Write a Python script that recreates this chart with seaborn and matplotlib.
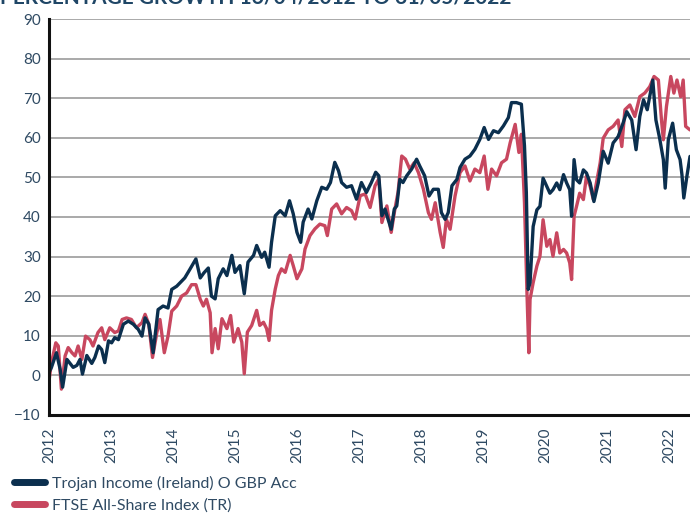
import pandas as pd
import matplotlib.pyplot as plt
import seaborn as sns

# --- values (x = decimal year, y = % growth) ---
trojan_x = [2012.00, 2012.04, 2012.12, 2012.18, 2012.22, 2012.29, 2012.34, 2012.39, 2012.45, 2012.50,
            2012.54, 2012.61, 2012.69, 2012.74, 2012.80, 2012.85, 2012.90, 2012.96, 2013.01, 2013.06,
            2013.12, 2013.20, 2013.28, 2013.36, 2013.44, 2013.50, 2013.55, 2013.61, 2013.68, 2013.76,
            2013.84, 2013.92, 2013.98, 2014.06, 2014.14, 2014.19, 2014.27, 2014.37, 2014.44, 2014.50,
            2014.57, 2014.62, 2014.68, 2014.73, 2014.81, 2014.87, 2014.95, 2015.00, 2015.08, 2015.15,
            2015.21, 2015.30, 2015.35, 2015.43, 2015.48, 2015.55, 2015.59, 2015.65, 2015.73, 2015.81,
            2015.88, 2015.94, 2016.00, 2016.06, 2016.10, 2016.18, 2016.24, 2016.32, 2016.40, 2016.48,
            2016.54, 2016.61, 2016.67, 2016.72, 2016.80, 2016.88, 2016.96, 2017.04, 2017.12, 2017.20,
            2017.27, 2017.32, 2017.37, 2017.42, 2017.47, 2017.52, 2017.57, 2017.61, 2017.66, 2017.71,
            2017.77, 2017.85, 2017.93, 2017.98, 2018.06, 2018.13, 2018.20, 2018.28, 2018.33, 2018.39,
            2018.44, 2018.50, 2018.58, 2018.63, 2018.71, 2018.79, 2018.87, 2018.95, 2019.02, 2019.09,
            2019.17, 2019.25, 2019.33, 2019.41, 2019.46, 2019.54, 2019.62, 2019.67, 2019.70, 2019.73,
            2019.76, 2019.81, 2019.87, 2019.92, 2019.97, 2020.03, 2020.08, 2020.13, 2020.19, 2020.24,
            2020.30, 2020.35, 2020.40, 2020.43, 2020.47, 2020.51, 2020.56, 2020.62, 2020.67, 2020.73,
            2020.79, 2020.86, 2020.94, 2021.02, 2021.10, 2021.18, 2021.26, 2021.32, 2021.40, 2021.47,
            2021.53, 2021.59, 2021.65, 2021.74, 2021.79, 2021.85, 2021.91, 2021.94, 2021.99, 2022.06,
            2022.12, 2022.18, 2022.21, 2022.24, 2022.29, 2022.34]
trojan_y = [0.7, 2.0, 5.7, 1.5, -3.0, 4.0, 3.0, 2.0, 2.5, 4.0,
            0.3, 5.0, 3.0, 4.5, 7.4, 6.5, 3.2, 8.7, 8.2, 9.5,
            9.0, 12.9, 13.7, 12.9, 11.6, 9.9, 14.5, 12.9, 5.7, 16.6,
            17.5, 17.0, 21.7, 22.5, 23.8, 24.6, 26.7, 29.4, 24.6, 25.9,
            27.1, 20.0, 19.3, 24.4, 26.9, 25.2, 30.3, 26.0, 27.7, 20.6,
            28.6, 30.3, 32.8, 29.8, 31.1, 27.3, 33.6, 40.3, 41.6, 40.3,
            44.1, 40.8, 36.1, 33.6, 38.7, 42.0, 39.5, 44.1, 47.5, 47.0,
            48.7, 53.8, 51.7, 48.7, 47.5, 47.9, 44.5, 48.7, 46.2, 48.7,
            51.3, 50.4, 40.3, 42.0, 39.4, 36.9, 42.0, 42.8, 49.5, 48.7,
            50.4, 52.1, 54.6, 52.9, 50.4, 45.3, 47.0, 47.0, 41.1, 39.4,
            41.1, 47.9, 49.5, 52.5, 54.6, 55.4, 57.1, 59.6, 62.6, 59.6,
            61.8, 61.3, 63.0, 65.1, 68.9, 68.9, 68.5, 58.0, 46.2, 21.7,
            23.4, 37.6, 41.8, 42.7, 49.8, 47.7, 46.0, 46.9, 48.6, 46.9,
            50.7, 48.6, 46.9, 40.2, 54.5, 49.4, 48.6, 51.9, 51.1, 48.6,
            43.9, 48.6, 56.6, 53.6, 58.7, 60.3, 63.7, 66.6, 64.5, 57.0,
            65.4, 69.6, 67.1, 74.6, 64.5, 59.9, 54.5, 47.3, 59.5, 63.7,
            57.0, 54.5, 50.7, 44.8, 50.3, 55.3]

ftse_x = [2012.00, 2012.04, 2012.11, 2012.15, 2012.20, 2012.26, 2012.31, 2012.37, 2012.42, 2012.47,
          2012.53, 2012.59, 2012.66, 2012.71, 2012.79, 2012.85, 2012.90, 2012.98, 2013.06, 2013.12,
          2013.18, 2013.25, 2013.33, 2013.41, 2013.50, 2013.55, 2013.61, 2013.67, 2013.74, 2013.79,
          2013.86, 2013.92, 2013.98, 2014.06, 2014.14, 2014.22, 2014.30, 2014.37, 2014.44, 2014.49,
          2014.54, 2014.60, 2014.63, 2014.68, 2014.73, 2014.79, 2014.87, 2014.93, 2014.98, 2015.05,
          2015.11, 2015.15, 2015.20, 2015.27, 2015.35, 2015.40, 2015.46, 2015.51, 2015.55, 2015.59,
          2015.65, 2015.70, 2015.75, 2015.81, 2015.89, 2015.94, 2016.00, 2016.08, 2016.13, 2016.21,
          2016.29, 2016.37, 2016.45, 2016.49, 2016.56, 2016.64, 2016.72, 2016.80, 2016.88, 2016.94,
          2017.02, 2017.10, 2017.18, 2017.26, 2017.32, 2017.37, 2017.45, 2017.52, 2017.58, 2017.63,
          2017.69, 2017.75, 2017.82, 2017.89, 2017.96, 2018.04, 2018.12, 2018.17, 2018.23, 2018.31,
          2018.36, 2018.41, 2018.47, 2018.55, 2018.63, 2018.71, 2018.79, 2018.87, 2018.95, 2019.02,
          2019.08, 2019.14, 2019.22, 2019.30, 2019.38, 2019.44, 2019.52, 2019.58, 2019.62, 2019.67,
          2019.71, 2019.74, 2019.76, 2019.81, 2019.87, 2019.92, 2019.97, 2020.03, 2020.08, 2020.13,
          2020.19, 2020.24, 2020.30, 2020.35, 2020.40, 2020.43, 2020.47, 2020.51, 2020.56, 2020.62,
          2020.67, 2020.73, 2020.78, 2020.83, 2020.89, 2020.94, 2021.02, 2021.10, 2021.18, 2021.24,
          2021.29, 2021.37, 2021.45, 2021.53, 2021.61, 2021.69, 2021.76, 2021.83, 2021.88, 2021.91,
          2021.96, 2022.03, 2022.08, 2022.13, 2022.19, 2022.23, 2022.27, 2022.34]
ftse_y = [-1.4, 3.2, 8.2, 7.4, -3.5, 4.9, 7.0, 5.7, 4.9, 7.4,
          4.0, 9.9, 9.0, 7.4, 10.8, 12.0, 9.0, 12.0, 10.8, 11.2,
          14.1, 14.5, 14.1, 12.0, 13.3, 15.4, 12.9, 4.5, 10.8, 14.1,
          5.7, 9.9, 16.2, 17.5, 20.0, 20.8, 22.9, 22.9, 19.2, 17.5,
          19.2, 15.8, 5.7, 11.8, 6.7, 14.3, 11.8, 15.1, 8.4, 11.8,
          8.4, 0.4, 10.9, 12.6, 16.4, 12.6, 13.4, 11.8, 8.8, 16.4,
          21.8, 25.2, 26.9, 26.0, 30.3, 27.7, 24.4, 26.9, 31.9, 35.3,
          37.0, 38.2, 37.8, 35.3, 42.0, 43.3, 40.8, 42.4, 41.6, 39.5,
          45.4, 45.8, 42.4, 47.9, 49.6, 38.6, 42.8, 36.1, 42.0, 46.2,
          55.4, 54.6, 52.1, 53.7, 51.2, 47.0, 41.1, 39.4, 43.6, 36.1,
          32.3, 39.4, 36.9, 45.3, 51.2, 52.9, 49.1, 52.1, 51.2, 55.4,
          47.0, 52.1, 50.4, 53.7, 54.6, 58.8, 63.4, 56.3, 60.9, 43.6,
          20.9, 5.7, 19.2, 23.4, 27.6, 30.1, 39.3, 32.6, 34.3, 30.1,
          36.0, 30.9, 31.8, 30.9, 28.4, 24.2, 40.2, 42.7, 46.0, 44.4,
          50.3, 47.7, 44.4, 48.6, 53.6, 59.9, 62.0, 62.9, 64.5, 57.8,
          67.1, 68.3, 65.4, 70.4, 71.3, 72.9, 75.5, 74.6, 64.5, 59.5,
          67.9, 75.5, 71.3, 74.6, 70.4, 74.6, 62.9, 62.0]

series_names = ["Trojan Income (Ireland) O GBP Acc", "FTSE All-Share Index (TR)"]
series_colors = ["#0b2f4e", "#c8475f"]
year_ticks = list(range(2012, 2023))
value_ticks = list(range(-10, 100, 10))

df = pd.concat([
    pd.DataFrame({"year": trojan_x, "growth": trojan_y, "series": series_names[0]}),
    pd.DataFrame({"year": ftse_x, "growth": ftse_y, "series": series_names[1]}),
])

sns.set_style("white")
plt.rcParams["font.family"] = ["Lato", "DejaVu Sans"]
text_col = "#2f4a63"

fig = plt.figure(figsize=(6.9, 5.16), dpi=100)
ax = fig.add_axes([0.071, 0.196, 0.929, 0.767])

# 先畫 FTSE，讓 Trojan 線在上面
sns.lineplot(data=df, x="year", y="growth", hue="series",
             hue_order=series_names[::-1], palette=series_colors[::-1],
             estimator=None, sort=False, linewidth=2.4, ax=ax, legend=False)

ax.set_xlim(2012, 2022.34)
ax.set_ylim(-10, 90)
ax.set_xticks(year_ticks)
ax.set_xticklabels([str(y) for y in year_ticks], rotation=90, va="top")
ax.set_yticks(value_ticks)
ax.tick_params(axis="both", length=0, labelsize=11, labelcolor=text_col)
ax.tick_params(axis="x", pad=9)
ax.tick_params(axis="y", pad=6)
ax.set_xlabel("")
ax.set_ylabel("")

ax.grid(axis="y", color="#a3a3a3", linewidth=1.3)
ax.set_axisbelow(True)
for side in ["top", "right"]:
    ax.spines[side].set_visible(False)
for side in ["left", "bottom"]:
    ax.spines[side].set_color("#111111")
    ax.spines[side].set_linewidth(2.2)

# 圖例（手動做粗線圓頭）
handles = [plt.Line2D([], [], color=c, linewidth=5, solid_capstyle="round") for c in series_colors]
fig.legend(handles, series_names, loc="lower left", bbox_to_anchor=(0.0, -0.022),
           frameon=False, handlelength=1.9, handletextpad=0.45, labelspacing=0.5,
           fontsize=11.5, labelcolor=text_col)

# 被裁掉的標題
fig.text(0.0, 0.993, "PERCENTAGE GROWTH 16/04/2012 TO 31/05/2022", color="#1f4666",
         fontsize=15, fontweight="bold", va="baseline", ha="left")

plt.savefig("out.png", dpi=100)
plt.close()
